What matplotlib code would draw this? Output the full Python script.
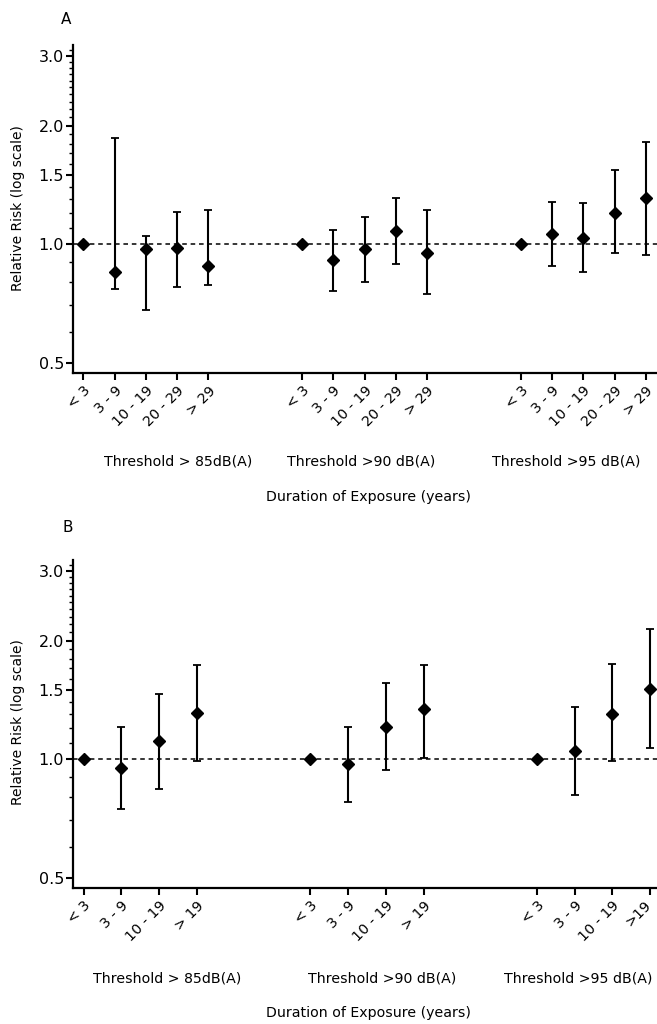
import numpy as np
import matplotlib
matplotlib.use("Agg")
import matplotlib.pyplot as plt
from matplotlib.ticker import FixedLocator, NullFormatter

plt.rcParams['font.family'] = ['DejaVu Sans']

# ---------------- data ----------------
groups = ["Threshold > 85dB(A)", "Threshold >90 dB(A)", "Threshold >95 dB(A)"]

# Panel A
cats_A = [["< 3", "3 - 9", "10 - 19", "20 - 29", "> 29"],
          ["< 3", "3 - 9", "10 - 19", "20 - 29", "> 29"],
          ["< 3", "3 - 9", "10 - 19", "20 - 29", "> 29"]]
rr_A_85 = [1.00, 0.85, 0.97, 0.98, 0.88]
lo_A_85 = [np.nan, 0.77, 0.68, 0.78, 0.79]
hi_A_85 = [np.nan, 1.86, 1.05, 1.21, 1.22]
rr_A_90 = [1.00, 0.91, 0.97, 1.08, 0.95]
lo_A_90 = [np.nan, 0.76, 0.80, 0.89, 0.75]
hi_A_90 = [np.nan, 1.09, 1.17, 1.31, 1.22]
rr_A_95 = [1.00, 1.06, 1.04, 1.20, 1.31]
lo_A_95 = [np.nan, 0.88, 0.85, 0.95, 0.94]
hi_A_95 = [np.nan, 1.28, 1.27, 1.54, 1.82]

# Panel B
cats_B = [["< 3", "3 - 9", "10 - 19", "> 19"],
          ["< 3", "3 - 9", "10 - 19", "> 19"],
          ["< 3", "3 - 9", "10 - 19", ">19"]]
rr_B_85 = [1.00, 0.95, 1.11, 1.31]
lo_B_85 = [np.nan, 0.75, 0.84, 0.99]
hi_B_85 = [np.nan, 1.21, 1.46, 1.73]
rr_B_90 = [1.00, 0.97, 1.21, 1.34]
lo_B_90 = [np.nan, 0.78, 0.94, 1.01]
hi_B_90 = [np.nan, 1.21, 1.56, 1.73]
rr_B_95 = [1.00, 1.05, 1.30, 1.51]
lo_B_95 = [np.nan, 0.81, 0.99, 1.07]
hi_B_95 = [np.nan, 1.36, 1.74, 2.14]

ytick_vals = [0.5, 1.0, 1.5, 2.0, 3.0]
ytick_labels = ["0.5", "1.0", "1.5", "2.0", "3.0"]

W, H = 657, 1024
fig = plt.figure(figsize=(W / 100, H / 100), dpi=100)

XT_SIZE = 10.3
XT_LEN, XT_PAD = 5, 2.5


def px_axes(left, top, right, bottom):
    return fig.add_axes([left / W, 1 - bottom / H, (right - left) / W, (bottom - top) / H])


def draw_panel(ax, cats, rr, lo, hi, gap, xlim, last_manual=False):
    pos_all, lab_all = [], []
    for g in range(3):
        n = len(cats[g])
        pos = g * gap + np.arange(n)
        r = np.array(rr[g]); l = np.array(lo[g]); h = np.array(hi[g])
        m = np.isfinite(l)
        ax.errorbar(pos[m], r[m], yerr=[r[m] - l[m], h[m] - r[m]], fmt='none',
                    ecolor='black', elinewidth=1.5, capsize=3, capthick=1.3, zorder=3)
        ax.plot(pos, r, linestyle='none', marker='D', ms=5.8, color='black', zorder=4)
        pos_all.extend(pos); lab_all.extend(cats[g])
    ax.axhline(1.0, color='black', lw=1.1, ls=(0, (3, 2.5)), zorder=2)
    ax.set_yscale('log')
    ax.set_ylim(0.4717, 3.2)
    ax.set_xlim(*xlim)
    ax.yaxis.set_major_locator(FixedLocator(ytick_vals))
    ax.set_yticklabels(ytick_labels)
    minors = [v for v in np.round(np.arange(0.5, 3.2, 0.1), 2) if v not in ytick_vals]
    ax.yaxis.set_minor_locator(FixedLocator(minors))
    ax.yaxis.set_minor_formatter(NullFormatter())
    ax.xaxis.set_minor_locator(FixedLocator([]))
    ax.set_xticks(pos_all)
    shown = list(lab_all)
    if last_manual:
        shown[-1] = ""
    ax.set_xticklabels(shown, rotation=45, ha='right', rotation_mode='anchor', fontsize=XT_SIZE)
    if last_manual:
        ax.annotate(lab_all[-1], xy=(pos_all[-1], 0), xycoords=('data', 'axes fraction'),
                    xytext=(-4.5, -(XT_LEN + XT_PAD)), textcoords='offset points',
                    rotation=45, ha='right', va='top', rotation_mode='anchor',
                    fontsize=XT_SIZE, annotation_clip=False)
    ax.tick_params(axis='y', which='major', length=5, width=1.5, labelsize=11.5, pad=1.5)
    ax.tick_params(axis='y', which='minor', length=3, width=1.0)
    ax.tick_params(axis='x', which='major', length=XT_LEN, width=1.5, pad=XT_PAD)
    for s in ['top', 'right']:
        ax.spines[s].set_visible(False)
    for s in ['left', 'bottom']:
        ax.spines[s].set_linewidth(1.6)


axA = px_axes(73, 45, 657, 373)
draw_panel(axA, cats_A, [rr_A_85, rr_A_90, rr_A_95], [lo_A_85, lo_A_90, lo_A_95],
           [hi_A_85, hi_A_90, hi_A_95], 7, (-0.33, 18.36))

axB = px_axes(73, 560, 657, 888)
draw_panel(axB, cats_B, [rr_B_85, rr_B_90, rr_B_95], [lo_B_85, lo_B_90, lo_B_95],
           [hi_B_85, hi_B_90, hi_B_95], 6, (-0.28, 15.18), last_manual=True)


def ftext(x, y, s, **kw):
    fig.text(x / W, 1 - y / H, s, ha='center', va='center', **kw)


ftext(66, 20, "A", fontsize=11)
ftext(68, 528, "B", fontsize=11)
ftext(18.5, 208, "Relative Risk (log scale)", rotation=90, fontsize=10)
ftext(18.5, 722, "Relative Risk (log scale)", rotation=90, fontsize=10)

for x, s in zip([178, 361.5, 566.5], groups):
    ftext(x, 461.7, s, fontsize=10.2)
for x, s in zip([167.5, 382.5, 577.8], groups):
    ftext(x, 978.3, s, fontsize=10.2)
ftext(368, 496.7, "Duration of Exposure (years)", fontsize=10.2)
ftext(368, 1013.3, "Duration of Exposure (years)", fontsize=10.2)

fig.savefig("out.png", dpi=100)
